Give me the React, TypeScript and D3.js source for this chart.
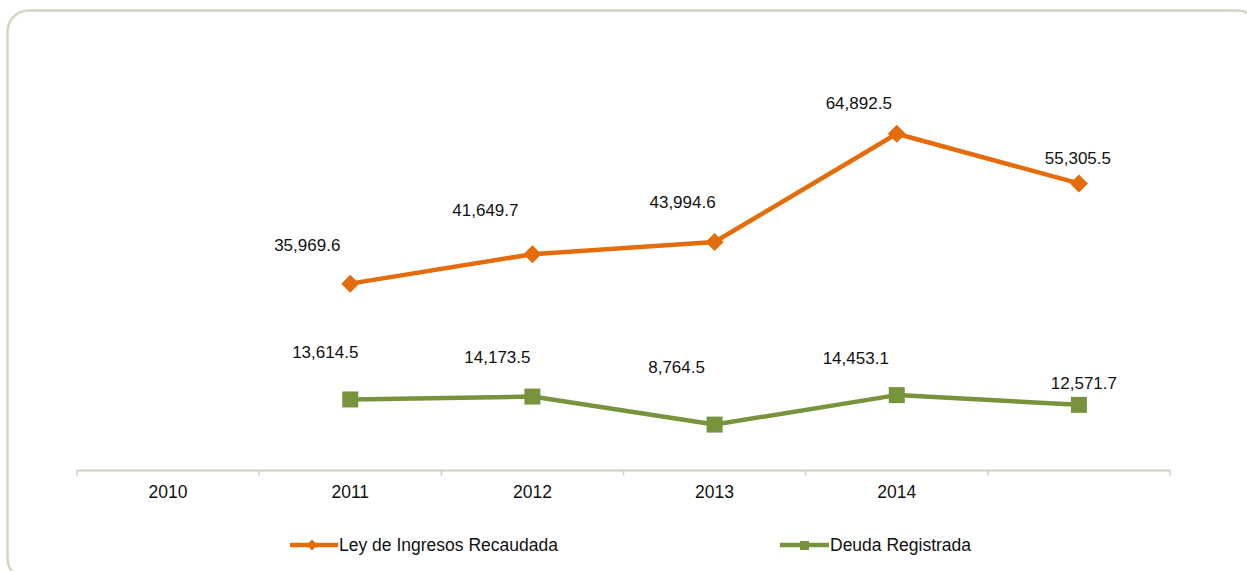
import React from "react";
import * as d3 from "d3";

const categories = ["2010", "2011", "2012", "2013", "2014", ""];
const leyIngresos: (number | null)[] = [null, 35969.6, 41649.7, 43994.6, 64892.5, 55305.5];
const deudaRegistrada: (number | null)[] = [null, 13614.5, 14173.5, 8764.5, 14453.1, 12571.7];
const seriesNames = ["Ley de Ingresos Recaudada", "Deuda Registrada"];

// manual label placement (offset of label centre from its point)
const leyLabelOffsets = [null, [-43, -39], [-47, -44], [-32, -40], [-38, -31], [-1, -25]];
const deudaLabelOffsets = [null, [-25, -47], [-35, -40], [-38, -58], [-41, -37], [5, -22]];

const ORANGE = "#E46C0A";
const GREEN = "#77933C";
const GRID = "#cfd1bd";
const FONT = "'Liberation Sans', Arial, sans-serif";

const fmt = d3.format(",.1f");

export default function App() {
  const W = 1247;
  const H = 571;
  const x = d3.scaleBand<number>().domain(d3.range(categories.length)).range([77, 1170]).padding(0);
  const y = d3.scaleLinear().domain([0, 80000]).range([470, 55.5]);
  const cx = (i: number) => (x(i) as number) + x.bandwidth() / 2;

  const line = d3
    .line<[number, number | null]>()
    .defined((d) => d[1] != null)
    .x((d) => cx(d[0]))
    .y((d) => y(d[1] as number));

  const leyPts = leyIngresos.map((v, i) => [i, v] as [number, number | null]);
  const deudaPts = deudaRegistrada.map((v, i) => [i, v] as [number, number | null]);

  const diamond = (px: number, py: number, r: number) =>
    `M${px},${py - r}L${px + r},${py}L${px},${py + r}L${px - r},${py}Z`;

  const ticks = d3.range(categories.length + 1).map((i) => 77 + i * x.bandwidth());

  return (
    <svg width={W} height={H} style={{ position: "absolute", left: 0, top: 0 }} fontFamily={FONT}>
      <rect x={7.5} y={10.5} width={1251} height={569} rx={21} ry={21} fill="#fff" stroke="#d3d5c3" strokeWidth={2.5} />
      {/* axis */}
      <line x1={77} x2={1170} y1={470.5} y2={470.5} stroke={GRID} strokeWidth={2} />
      {ticks.map((t, i) => (
        <line key={i} x1={t} x2={t} y1={470} y2={475.5} stroke={GRID} strokeWidth={1.5} />
      ))}
      {categories.map((c, i) => (
        <text key={c + i} x={cx(i)} y={497.5} textAnchor="middle" fontSize={17.5} fill="#111">
          {c}
        </text>
      ))}
      {/* lines */}
      <path d={line(leyPts) || ""} fill="none" stroke={ORANGE} strokeWidth={4.5} strokeLinejoin="round" />
      <path d={line(deudaPts) || ""} fill="none" stroke={GREEN} strokeWidth={4.5} strokeLinejoin="round" />
      {leyPts.map(([i, v]) =>
        v == null ? null : <path key={"lm" + i} d={diamond(cx(i), y(v), 9)} fill={ORANGE} />
      )}
      {deudaPts.map(([i, v]) =>
        v == null ? null : (
          <rect key={"dm" + i} x={cx(i) - 8} y={y(v) - 8} width={16} height={16} fill={GREEN} />
        )
      )}
      {/* labels */}
      {leyPts.map(([i, v]) => {
        const o = leyLabelOffsets[i];
        if (v == null || !o) return null;
        return (
          <text key={"ll" + i} x={cx(i) + o[0]} y={y(v) + o[1] + 6} textAnchor="middle" fontSize={17} fill="#111">
            {fmt(v)}
          </text>
        );
      })}
      {deudaPts.map(([i, v]) => {
        const o = deudaLabelOffsets[i];
        if (v == null || !o) return null;
        return (
          <text key={"dl" + i} x={cx(i) + o[0]} y={y(v) + o[1] + 6} textAnchor="middle" fontSize={17} fill="#111">
            {fmt(v)}
          </text>
        );
      })}
      {/* legend */}
      <g>
        <line x1={290} x2={338} y1={545} y2={545} stroke={ORANGE} strokeWidth={4.5} />
        <path d={diamond(312, 545, 5.5)} fill={ORANGE} />
        <text x={339} y={551} fontSize={17.5} fill="#111">
          {seriesNames[0]}
        </text>
        <line x1={780} x2={829} y1={545} y2={545} stroke={GREEN} strokeWidth={4.5} />
        <rect x={800} y={541} width={9} height={9} fill={GREEN} />
        <text x={830} y={551} fontSize={17.5} fill="#111">
          {seriesNames[1]}
        </text>
      </g>
    </svg>
  );
}
